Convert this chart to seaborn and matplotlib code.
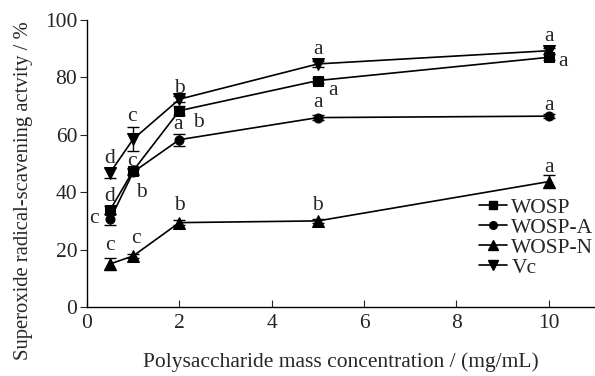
import matplotlib
matplotlib.use("Agg")
import matplotlib.pyplot as plt
import seaborn as sns
import pandas as pd
from matplotlib.lines import Line2D

conc = [0.5, 1, 2, 5, 10]
wosp = [33.8, 47.5, 68.4, 78.9, 87.0]
wosp_err = [1.5, 1.0, 1.5, 1.0, 1.0]
wosp_a = [30.5, 47.0, 58.3, 66.0, 66.5]
wosp_a_err = [1.8, 1.0, 2.1, 0.8, 0.8]
wosp_n = [15.0, 17.8, 29.4, 30.0, 43.7]
wosp_n_err = [2.0, 0.8, 0.8, 0.8, 2.2]
vc = [46.8, 58.5, 72.4, 84.7, 89.3]
vc_err = [1.7, 4.3, 1.0, 1.0, 1.0]

series_names = ["WOSP", "WOSP-A", "WOSP-N", "Vc"]
letters = {
    "WOSP": ["d", "b", "b", "a", "a"],
    "WOSP-A": ["c", "c", "a", "a", "a"],
    "WOSP-N": ["c", "c", "b", "b", "a"],
    "Vc": ["d", "c", "b", "a", "a"],
}

sns.set_style("ticks")
plt.rcParams["font.family"] = ["Liberation Serif", "DejaVu Serif"]

values = {"WOSP": (wosp, wosp_err), "WOSP-A": (wosp_a, wosp_a_err),
          "WOSP-N": (wosp_n, wosp_n_err), "Vc": (vc, vc_err)}
rows = []
for name in series_names:
    for x, y in zip(conc, values[name][0]):
        rows.append({"conc": x, "act": y, "series": name})
df = pd.DataFrame(rows)

markers = {"WOSP": "s", "WOSP-A": "o", "WOSP-N": "^", "Vc": "v"}
msize = {"WOSP": 6.5, "WOSP-A": 6.5, "WOSP-N": 8, "Vc": 8}

fig = plt.figure(figsize=(5.95, 3.76), dpi=100)
ax = fig.add_axes([87 / 595, (376 - 307) / 376, (595 - 87) / 595, (307 - 20) / 376])

for name in series_names:
    y, e = values[name]
    ax.errorbar(conc, y, yerr=e, fmt="none", ecolor="black", elinewidth=1.0,
                capsize=4, capthick=1.0, zorder=2)

sns.lineplot(data=df, x="conc", y="act", hue="series", style="series",
             hue_order=series_names, style_order=series_names,
             palette={n: "black" for n in series_names},
             markers=markers, dashes=False, linewidth=1.2,
             markeredgecolor="black", ax=ax, zorder=3, legend=False)
for line, name in zip(ax.get_lines()[-4:], series_names):
    line.set_markersize(msize[name])

# significance letters: baseline positions in data units
fs = 15.5
letter_pos = {
    "WOSP": [(0.48, 37.0), (1.17, 38.4), (2.41, 62.8), (5.32, 73.9), (10.31, 83.9)],
    "WOSP-A": [(0.14, 29.2), (0.97, 49.2), (1.98, 62.0), (5.0, 69.6), (10.0, 68.6)],
    "WOSP-N": [(0.5, 19.8), (1.05, 22.2), (2.0, 33.8), (5.0, 33.8), (10.0, 47.1)],
    "Vc": [(0.48, 50.1), (0.97, 64.9), (2.0, 74.6), (5.0, 88.1), (10.0, 92.8)],
}
for name in series_names:
    for (x, y), t in zip(letter_pos[name], letters[name]):
        ax.text(x, y, t, ha="center", va="baseline", fontsize=fs)

ax.set_xlim(0, 11)
ax.set_ylim(0, 100)
ax.set_xticks([0, 2, 4, 6, 8, 10])
ax.set_yticks([0, 20, 40, 60, 80, 100])
ax.tick_params(axis="x", direction="in", length=5, labelsize=fs, pad=5)
ax.tick_params(axis="y", direction="out", length=5, labelsize=fs, pad=2)
sns.despine(ax=ax, top=True, right=True)
for s in ["left", "bottom"]:
    ax.spines[s].set_linewidth(1.0)
    ax.spines[s].set_color("black")

ax.set_xlabel("Polysaccharide mass concentration / (mg/mL)", fontsize=fs, labelpad=14)
ax.set_ylabel("Superoxide radical-scavening actvity / %", fontsize=14.9)
ax.yaxis.set_label_coords(-0.106, 0.405)

handles = [Line2D([0], [0], color="black", marker=markers[n], markersize=msize[n] - 1,
                  linewidth=1.2) for n in series_names]
ax.legend(handles, series_names, loc="center left", bbox_to_anchor=(0.772, 0.241),
          frameon=False, fontsize=fs, handlelength=1.3, handletextpad=0.2,
          labelspacing=0.0, borderaxespad=0, borderpad=0)

fig.savefig("out.png", dpi=100)
